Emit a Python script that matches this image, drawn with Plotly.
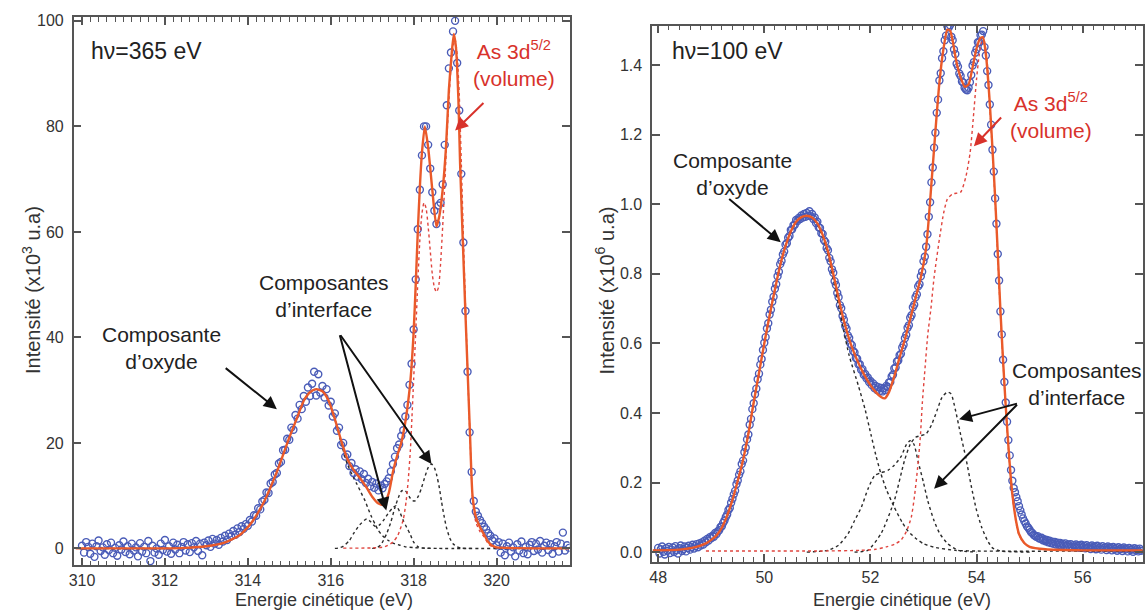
import numpy as np
import plotly.graph_objects as go

# ======================= LEFT PANEL : hv = 365 eV =======================
L_DATA_E0 = 310.0
L_DATA_STEP = 0.05
L_data_I = [
    0.5, -0.8, 1.2, 0.3, -1.0, 0.9, -1.6, 0.4, 1.5, -0.5,
    0.2, -1.2, 0.8, -0.3, 1.1, -0.9, 0.1, -1.4, 0.6, -0.2,
    1.3, -0.7, 0.4, -1.1, 0.9, -0.4, 0.2, -1.5, 1.0, -0.6,
    0.3, -0.9, 1.4, -2.4, 0.5, -0.8, 0.0, -1.2, 0.9, -0.3,
    1.6, -0.6, 0.4, -1.0, 1.1, -0.2, 0.7, -0.9, 0.3, 1.2,
    -0.4, 0.8, -0.7, 1.0, 0.2, 1.4, -0.5, 0.9, -1.3, 1.1,
    0.6, 1.5, 0.3, 1.8, 0.9, 1.6, 0.7, 2.0, 1.3, 2.4,
    1.6, 2.8, 2.3, 3.3, 2.6, 3.8, 3.1, 4.2, 3.7, 4.6,
    4.3, 5.4, 5.1, 6.3, 6.2, 7.6, 7.4, 8.9, 9.2, 10.6,
    10.5, 12.3, 12.6, 14.0, 14.3, 16.1, 16.4, 18.6, 18.7, 20.8,
    20.6, 22.9, 22.5, 25.3, 24.6, 27.2, 26.4, 28.9, 27.8, 30.5,
    28.9, 31.2, 33.5, 29.0, 33.0, 29.5, 30.8, 28.6, 30.2, 27.1,
    27.8, 25.0, 25.6, 22.3, 22.9, 19.6, 20.0, 17.4, 17.8, 15.6,
    16.2, 14.3, 15.0, 13.6, 14.6, 13.1, 14.1, 12.4, 13.2, 11.8,
    12.6, 11.5, 12.3, 11.0, 11.9, 11.4, 12.2, 12.7, 13.3, 14.6,
    16.0, 17.4, 19.0, 19.7, 21.3, 22.4, 25.0, 27.2, 31.0, 35.0,
    41.5, 51.0, 60.5, 68.0, 74.5, 80.0, 80.0, 76.5, 72.0, 67.5,
    64.0, 61.5, 65.0, 65.5, 69.0, 76.5, 84.0, 91.0, 94.0, 98.0,
    100.0, 92.0, 83.0, 71.0, 58.0, 45.0, 33.5, 22.0, 14.5, 9.0,
    7.0, 6.2, 5.4, 4.8, 4.1, 3.6, 2.9, 2.4, 1.5, 1.9,
    0.6, 1.2, -0.8, 0.9, -1.3, 0.4, 1.1, -0.6, 0.2, -1.5,
    0.8, -0.4, 1.3, -0.9, 0.3, -1.1, 0.7, 1.2, -0.5, 0.9,
    -0.2, 1.4, -0.8, 0.5, 1.1, -0.3, 0.8, -1.0, 0.4, 1.2,
    -0.6, 0.9, 3.0, -0.4, 0.6, 0.1,
]

L_fit_E = [309.85, 312.0, 312.5, 313.0, 313.4, 313.8, 314.1, 314.4, 314.7, 315.0,
           315.2, 315.35, 315.5, 315.65, 315.8, 315.95, 316.1, 316.25, 316.4, 316.55,
           316.7, 316.85, 317.0, 317.15, 317.27, 317.4, 317.5, 317.6, 317.7, 317.8,
           317.9, 317.95, 318.0, 318.05, 318.1, 318.15, 318.2, 318.27, 318.35, 318.45,
           318.55, 318.62, 318.7, 318.78, 318.85, 318.92, 318.97, 319.02, 319.08, 319.12,
           319.18, 319.24, 319.3, 319.36, 319.42, 319.5, 319.6, 319.7, 319.8, 319.9,
           320.0, 320.5, 321.75]
L_fit_I = [0.0, 0.0, 0.1, 0.4, 1.0, 2.5, 5.0, 9.0, 14.5, 21.0,
           25.0, 28.0, 29.6, 30.2, 29.8, 28.0, 24.5, 20.5, 17.0, 14.9,
           13.4, 11.7, 9.8, 8.5, 8.3, 10.5, 14.5, 17.5, 20.0, 24.0,
           30.0, 34.5, 41.0, 50.0, 60.0, 68.5, 75.0, 80.0, 76.0, 68.0,
           61.0, 63.0, 68.0, 76.0, 87.0, 94.0, 97.5, 95.0, 85.0, 73.0,
           59.5, 46.5, 34.0, 21.5, 10.0, 6.0, 4.0, 2.6, 1.2, 0.5,
           0.2, 0.05, 0.0]

L_oxide_E = [309.85, 312.0, 312.5, 313.0, 313.4, 313.8, 314.1, 314.4, 314.7, 315.0,
             315.2, 315.35, 315.5, 315.65, 315.8, 315.95, 316.1, 316.25, 316.4, 316.55,
             316.63, 316.73, 316.83, 316.91, 316.99, 317.07, 317.15, 317.25, 317.39, 317.5,
             317.67, 317.8, 318.0, 318.3, 318.6, 321.75]
L_oxide_I = [0.0, 0.0, 0.1, 0.4, 1.0, 2.5, 5.0, 9.0, 14.5, 21.0,
             25.0, 28.0, 29.6, 30.2, 29.8, 28.0, 24.5, 20.0, 16.0, 13.4,
             12.2, 10.6, 9.0, 7.4, 5.9, 4.6, 3.4, 2.4, 1.5, 1.0,
             0.6, 0.3, 0.15, 0.05, 0.0, 0.0]

L_int1_E = [316.1, 316.2, 316.3, 316.45, 316.55, 316.7, 316.87, 316.97, 317.07, 317.17,
            317.27, 317.4, 317.51, 317.58, 317.66, 317.75, 317.83, 317.91, 318.0, 318.11,
            318.25, 318.5]
L_int1_I = [0.0, 0.1, 0.4, 1.5, 2.8, 4.5, 5.6, 5.0, 4.2, 4.4,
            5.3, 6.8, 7.8, 8.1, 7.0, 5.3, 4.0, 2.8, 1.2, 0.3,
            0.05, 0.0]

L_int2_E = [317.0, 317.1, 317.2, 317.35, 317.45, 317.55, 317.65, 317.71, 317.79, 317.85,
            317.91, 317.97, 318.03, 318.12, 318.19, 318.28, 318.35, 318.43, 318.5, 318.55,
            318.62, 318.67, 318.73, 318.79, 318.87, 318.95, 319.05, 319.15, 319.4]
L_int2_I = [0.0, 0.1, 0.6, 2.8, 5.0, 7.8, 10.0, 10.9, 11.0, 10.4,
            9.6, 9.1, 9.0, 10.0, 11.5, 13.8, 15.3, 16.0, 15.3, 14.1,
            11.5, 9.0, 6.3, 4.0, 2.0, 0.9, 0.3, 0.05, 0.0]

L_vol_E = [316.3, 317.0, 317.3, 317.5, 317.62, 317.75, 317.82, 317.87, 317.92, 317.96,
           318.0, 318.05, 318.1, 318.15, 318.2, 318.25, 318.3, 318.35, 318.4, 318.45,
           318.5, 318.55, 318.6, 318.65, 318.7, 318.75, 318.8, 318.85, 318.9, 318.95,
           319.0, 319.05, 319.1, 319.15, 319.2, 319.25, 319.3, 319.36, 319.42, 319.5,
           319.6, 319.7, 319.8, 319.9, 320.0]
L_vol_I = [0.05, 0.1, 0.3, 1.2, 2.5, 5.5, 9.0, 13.0, 18.5, 25.0,
           32.0, 41.0, 50.5, 58.5, 63.5, 65.5, 64.5, 61.0, 56.5, 52.0,
           49.5, 48.6, 49.5, 54.0, 61.0, 69.0, 77.5, 85.0, 91.0, 95.0,
           96.5, 93.5, 86.0, 73.0, 59.0, 46.0, 34.0, 21.0, 9.5, 5.0,
           3.2, 2.2, 0.9, 0.3, 0.1]

# ======================= RIGHT PANEL : hv = 100 eV =======================
R_DATA_E0 = 48.0
R_DATA_STEP = 0.025
R_data_I = [
    0.012, -0.004, 0.008, 0.016, 0.001, -0.007, 0.011, 0.004, 0.015, -0.003,
    0.007, 0.013, 0.000, 0.017, 0.006, -0.004, 0.011, 0.019, 0.003, 0.009,
    0.016, 0.002, 0.012, 0.018, 0.007, 0.014, 0.021, 0.010, 0.017, 0.023,
    0.014, 0.025, 0.019, 0.028, 0.022, 0.033, 0.028, 0.038, 0.033, 0.043,
    0.040, 0.047, 0.044, 0.055, 0.052, 0.060, 0.063, 0.072, 0.074, 0.084,
    0.091, 0.101, 0.108, 0.121, 0.127, 0.142, 0.153, 0.166, 0.176, 0.195,
    0.206, 0.222, 0.232, 0.253, 0.263, 0.287, 0.300, 0.324, 0.338, 0.366,
    0.383, 0.411, 0.428, 0.454, 0.470, 0.497, 0.513, 0.539, 0.555, 0.581,
    0.602, 0.618, 0.643, 0.658, 0.683, 0.697, 0.720, 0.734, 0.757, 0.770,
    0.793, 0.806, 0.828, 0.837, 0.856, 0.864, 0.884, 0.888, 0.904, 0.909,
    0.926, 0.928, 0.940, 0.941, 0.955, 0.952, 0.961, 0.958, 0.968, 0.962,
    0.972, 0.964, 0.975, 0.967, 0.980, 0.966, 0.972, 0.958, 0.962, 0.946,
    0.950, 0.934, 0.932, 0.917, 0.915, 0.897, 0.892, 0.874, 0.868, 0.846,
    0.836, 0.813, 0.803, 0.779, 0.768, 0.745, 0.733, 0.710, 0.701, 0.679,
    0.668, 0.650, 0.642, 0.623, 0.616, 0.599, 0.595, 0.578, 0.574, 0.558,
    0.556, 0.540, 0.540, 0.524, 0.526, 0.510, 0.512, 0.500, 0.502, 0.489,
    0.492, 0.480, 0.485, 0.472, 0.478, 0.466, 0.474, 0.463, 0.472, 0.462,
    0.471, 0.466, 0.478, 0.475, 0.488, 0.489, 0.505, 0.510, 0.528, 0.531,
    0.548, 0.551, 0.566, 0.570, 0.588, 0.596, 0.615, 0.624, 0.645, 0.652,
    0.674, 0.681, 0.704, 0.711, 0.733, 0.741, 0.764, 0.770, 0.793, 0.806,
    0.836, 0.849, 0.878, 0.914, 0.964, 1.006, 1.063, 1.106, 1.163, 1.206,
    1.263, 1.301, 1.356, 1.377, 1.420, 1.440, 1.472, 1.485, 1.512, 1.508,
    1.515, 1.482, 1.472, 1.445, 1.432, 1.404, 1.396, 1.376, 1.369, 1.353,
    1.350, 1.335, 1.330, 1.328, 1.335, 1.351, 1.372, 1.399, 1.409, 1.436,
    1.446, 1.466, 1.466, 1.486, 1.488, 1.498, 1.452, 1.428, 1.383, 1.343,
    1.287, 1.229, 1.157, 1.094, 1.017, 0.944, 0.857, 0.781, 0.692, 0.626,
    0.553, 0.489, 0.430, 0.375, 0.322, 0.278, 0.236, 0.205, 0.184, 0.172,
    0.158, 0.146, 0.132, 0.120, 0.108, 0.097, 0.089, 0.082, 0.074, 0.070,
    0.064, 0.058, 0.055, 0.050, 0.047, 0.044, 0.046, 0.040, 0.038, 0.041,
    0.034, 0.037, 0.031, 0.035, 0.028, 0.033, 0.026, 0.030, 0.024, 0.029,
    0.022, 0.027, 0.021, 0.026, 0.019, 0.024, 0.018, 0.025, 0.017, 0.022,
    0.016, 0.023, 0.014, 0.020, 0.015, 0.022, 0.013, 0.019, 0.012, 0.021,
    0.014, 0.018, 0.011, 0.020, 0.013, 0.017, 0.009, 0.019, 0.012, 0.016,
    0.008, 0.018, 0.011, 0.015, 0.007, 0.017, 0.012, 0.014, 0.006, 0.016,
    0.010, 0.013, 0.005, 0.015, 0.009, 0.012, 0.004, 0.014, 0.008, 0.011,
    0.003, 0.013, 0.007, 0.010, 0.002, 0.012, 0.006, 0.009, 0.001, 0.011,
    0.005, 0.009, 0.002, 0.010, 0.004,
]

R_fit_E = [47.9, 48.4, 48.7, 48.9, 49.0, 49.1, 49.2, 49.3, 49.4, 49.5,
           49.6, 49.7, 49.8, 49.9, 50.0, 50.1, 50.2, 50.3, 50.4, 50.5,
           50.6, 50.7, 50.8, 50.9, 51.0, 51.1, 51.2, 51.3, 51.4, 51.5,
           51.6, 51.7, 51.8, 51.9, 52.0, 52.1, 52.2, 52.27, 52.35, 52.45,
           52.55, 52.65, 52.75, 52.85, 52.95, 53.05, 53.1, 53.15, 53.2, 53.25,
           53.3, 53.37, 53.45, 53.5, 53.55, 53.62, 53.7, 53.78, 53.85, 53.92,
           54.0, 54.07, 54.12, 54.18, 54.25, 54.3, 54.35, 54.4, 54.45, 54.5,
           54.55, 54.6, 54.65, 54.7, 54.75, 54.8, 54.9, 55.0, 55.3, 56.0,
           57.13]
R_fit_I = [0.005, 0.007, 0.014, 0.025, 0.035, 0.048, 0.07, 0.105, 0.15, 0.205,
           0.265, 0.34, 0.43, 0.515, 0.6, 0.68, 0.755, 0.825, 0.88, 0.922,
           0.95, 0.963, 0.967, 0.962, 0.945, 0.912, 0.865, 0.8, 0.73, 0.665,
           0.612, 0.57, 0.535, 0.505, 0.48, 0.46, 0.446, 0.442, 0.46, 0.505,
           0.56, 0.612, 0.67, 0.73, 0.79, 0.875, 0.96, 1.06, 1.16, 1.26,
           1.35, 1.44, 1.502, 1.5, 1.47, 1.41, 1.365, 1.338, 1.345, 1.39,
           1.448, 1.478, 1.48, 1.425, 1.29, 1.16, 1.02, 0.86, 0.695, 0.55,
           0.42, 0.305, 0.205, 0.135, 0.085, 0.052, 0.026, 0.015, 0.008, 0.005,
           0.005]

R_oxide_E = [47.9, 48.4, 48.7, 48.9, 49.0, 49.1, 49.2, 49.3, 49.4, 49.5,
             49.6, 49.7, 49.8, 49.9, 50.0, 50.1, 50.2, 50.3, 50.4, 50.5,
             50.6, 50.7, 50.8, 50.9, 51.0, 51.1, 51.2, 51.3, 51.4, 51.5,
             51.6, 51.77, 51.9, 52.01, 52.1, 52.2, 52.3, 52.45, 52.6, 52.7,
             52.85, 53.0, 53.2, 53.6, 54.0, 57.13]
R_oxide_I = [0.005, 0.007, 0.014, 0.025, 0.035, 0.048, 0.07, 0.105, 0.15, 0.205,
             0.265, 0.34, 0.43, 0.515, 0.6, 0.68, 0.755, 0.825, 0.88, 0.922,
             0.95, 0.963, 0.967, 0.962, 0.943, 0.905, 0.855, 0.785, 0.71, 0.635,
             0.565, 0.48, 0.41, 0.338, 0.28, 0.224, 0.18, 0.129, 0.085, 0.062,
             0.04, 0.024, 0.014, 0.005, 0.003, 0.003]

R_int1_E = [50.8, 51.2, 51.4, 51.58, 51.7, 51.83, 51.95, 52.08, 52.2, 52.33,
            52.45, 52.58, 52.68, 52.75, 52.82, 52.9, 53.0, 53.08, 53.2, 53.3,
            53.45, 53.65, 54.0]
R_int1_I = [0.0, 0.005, 0.02, 0.053, 0.09, 0.129, 0.18, 0.22, 0.228, 0.235,
            0.25, 0.275, 0.31, 0.32, 0.31, 0.26, 0.2, 0.148, 0.09, 0.055,
            0.025, 0.005, 0.0]

R_int2_E = [51.7, 51.95, 52.2, 52.45, 52.64, 52.75, 52.85, 52.95, 53.05, 53.15,
            53.25, 53.35, 53.45, 53.52, 53.6, 53.7, 53.8, 53.9, 54.0, 54.1,
            54.2, 54.3, 54.45, 55.0]
R_int2_I = [0.0, 0.005, 0.053, 0.148, 0.262, 0.31, 0.33, 0.335, 0.34, 0.365,
            0.405, 0.445, 0.46, 0.455, 0.41, 0.338, 0.27, 0.19, 0.12, 0.07,
            0.035, 0.012, 0.003, 0.0]

R_vol_E = [48.9, 50.0, 51.0, 51.8, 52.1, 52.3, 52.45, 52.58, 52.68, 52.77,
           52.83, 52.89, 52.94, 52.98, 53.03, 53.08, 53.14, 53.2, 53.3, 53.38,
           53.45, 53.55, 53.7, 53.8, 53.88, 53.94, 54.0, 54.05, 54.1, 54.14,
           54.2, 54.25, 54.3, 54.35, 54.4, 54.45, 54.5, 54.55, 54.6, 54.65,
           54.7, 54.75, 54.8, 54.9, 55.0, 55.2]
R_vol_I = [0.003, 0.003, 0.003, 0.005, 0.008, 0.015, 0.022, 0.035, 0.06, 0.1,
           0.16, 0.243, 0.33, 0.433, 0.53, 0.624, 0.7, 0.79, 0.9, 0.975,
           1.015, 1.03, 1.035, 1.08, 1.15, 1.25, 1.36, 1.43, 1.468, 1.472,
           1.41, 1.28, 1.15, 1.01, 0.85, 0.685, 0.545, 0.415, 0.3, 0.2,
           0.13, 0.08, 0.05, 0.025, 0.015, 0.008]

# ======================= STYLE =======================
FONT = "Liberation Sans, Arial, sans-serif"
C_DATA = "#4a5cb8"
C_FIT = "#ea5a2a"
C_COMP = "#2a2a2a"
C_VOL = "#e0443e"
C_TEXT = "#222222"
C_AXIS = "#555555"

L_data_E = np.round(L_DATA_E0 + L_DATA_STEP * np.arange(len(L_data_I)), 3)
R_data_E = np.round(R_DATA_E0 + R_DATA_STEP * np.arange(len(R_data_I)), 3)

fig = go.Figure()


def add_panel(xa, ya, dE, dI, fE, fI, comps, vE, vI):
    fig.add_trace(go.Scatter(x=dE, y=dI, mode="markers", xaxis=xa, yaxis=ya,
                             marker=dict(symbol="circle-open", size=7, color=C_DATA,
                                         line=dict(width=1.4, color=C_DATA)),
                             hoverinfo="skip"))
    for cE, cI in comps:
        fig.add_trace(go.Scatter(x=cE, y=cI, mode="lines", xaxis=xa, yaxis=ya,
                                 line=dict(color=C_COMP, width=1.4, dash="dot", shape="spline", smoothing=0.6)))
    fig.add_trace(go.Scatter(x=vE, y=vI, mode="lines", xaxis=xa, yaxis=ya,
                             line=dict(color=C_VOL, width=1.4, dash="dot", shape="spline", smoothing=0.6)))
    fig.add_trace(go.Scatter(x=fE, y=fI, mode="lines", xaxis=xa, yaxis=ya,
                             line=dict(color=C_FIT, width=2.4, shape="spline", smoothing=0.6)))


add_panel("x", "y", L_data_E, L_data_I, L_fit_E, L_fit_I,
          [(L_oxide_E, L_oxide_I), (L_int1_E, L_int1_I), (L_int2_E, L_int2_I)], L_vol_E, L_vol_I)
add_panel("x2", "y2", R_data_E, R_data_I, R_fit_E, R_fit_I,
          [(R_oxide_E, R_oxide_I), (R_int1_E, R_int1_I), (R_int2_E, R_int2_I)], R_vol_E, R_vol_I)

W, H = 1145, 611

axis_common = dict(showline=True, linecolor=C_AXIS, linewidth=1.5, mirror="ticks",
                   ticks="inside", tickcolor=C_AXIS, tickwidth=1.5, ticklen=8,
                   showgrid=False, zeroline=False,
                   tickfont=dict(family=FONT, size=16, color="#333333"))

fig.update_layout(
    width=W, height=H, margin=dict(l=0, r=0, t=0, b=0),
    paper_bgcolor="white", plot_bgcolor="white", showlegend=False,
    font=dict(family=FONT, color=C_TEXT),
    xaxis=dict(domain=[69 / W, 567 / W], range=[309.8, 321.76], dtick=2, tick0=310,
               minor=dict(dtick=0.2, ticks="inside", ticklen=5, tickcolor=C_AXIS, tickwidth=1.2),
               anchor="y", ticklabelstandoff=0, **axis_common),
    yaxis=dict(domain=[1 - 565 / H, 1 - 13 / H], range=[-3.2, 100.75], dtick=20,
               anchor="x", ticklabelstandoff=5, **axis_common),
    xaxis2=dict(domain=[650 / W, 1143 / W], range=[47.887, 57.137], dtick=2, tick0=48,
                minor=dict(dtick=0.2, ticks="inside", ticklen=5, tickcolor=C_AXIS, tickwidth=1.2),
                anchor="y2", ticklabelstandoff=0, **axis_common),
    yaxis2=dict(domain=[1 - 561.7 / H, 1 - 21.7 / H], range=[-0.0286, 1.514], dtick=0.2,
                tickformat=".1f", anchor="x2", ticklabelstandoff=5, **axis_common),
)

ann = []


def txt(x, y, s, xr, yr, size=21, color=C_TEXT, xanchor="center"):
    ann.append(dict(x=x, y=y, xref=xr, yref=yr, text=s, showarrow=False,
                    font=dict(family=FONT, size=size, color=color), xanchor=xanchor, yanchor="middle",
                    align="center"))


def arrow(x, y, ax, ay, xr, yr, color="#111111"):
    ann.append(dict(x=x, y=y, ax=ax, ay=ay, xref=xr, yref=yr, axref=xr, ayref=yr, text="",
                    showarrow=True, arrowhead=2, arrowsize=1.3, arrowwidth=2, arrowcolor=color))


# left panel texts
txt(310.18, 94.3, "hν=365 eV", "x", "y", size=23, xanchor="left")
txt(320.42, 91.9, "As 3d<sup>5/2</sup><br>(volume)", "x", "y", color="#d8322b")
arrow(319.0, 79.2, 319.72, 84.7, "x", "y", color="#d8322b")
txt(311.91, 38.0, "Composante<br>d’oxyde", "x", "y")
arrow(314.70, 26.4, 313.43, 34.4, "x", "y")
txt(315.83, 47.8, "Composantes<br>d’interface", "x", "y")
arrow(317.34, 7.2, 316.21, 40.7, "x", "y")
arrow(318.43, 16.0, 316.21, 40.7, "x", "y")

# right panel texts
txt(48.225, 1.442, "hν=100 eV", "x2", "y2", size=23, xanchor="left")
txt(49.41, 1.088, "Composante<br>d’oxyde", "x2", "y2")
arrow(50.31, 0.891, 49.31, 1.019, "x2", "y2")
txt(55.41, 1.255, "As 3d<sup>5/2</sup><br>(volume)", "x2", "y2", color="#d8322b")
arrow(53.95, 1.167, 54.49, 1.254, "x2", "y2", color="#d8322b")
txt(55.9, 0.482, "Composantes<br>d’interface", "x2", "y2")
arrow(53.67, 0.382, 54.79, 0.428, "x2", "y2")
arrow(53.2, 0.182, 54.79, 0.428, "x2", "y2")

# axis titles
for xc, s in [(26 / W, "Intensité (x10<sup>3</sup> u.a)"), (602 / W, "Intensité (x10<sup>6</sup> u.a)")]:
    ann.append(dict(x=xc, y=1 - 288 / H, xref="paper", yref="paper", text=s, showarrow=False,
                    textangle=-90, font=dict(family=FONT, size=20, color="#333333"),
                    xanchor="center", yanchor="middle"))
for xc in [320 / W, 901 / W]:
    ann.append(dict(x=xc, y=1 - 600 / H, xref="paper", yref="paper", text="Energie cinétique (eV)",
                    showarrow=False, font=dict(family=FONT, size=18, color="#333333"),
                    xanchor="center", yanchor="middle"))

fig.update_layout(annotations=ann)
fig.write_html("out.html", config={"displayModeBar": False},
               post_script="document.body.style.margin='0';document.body.style.padding='0';"
                           "document.documentElement.style.overflow='hidden';")
